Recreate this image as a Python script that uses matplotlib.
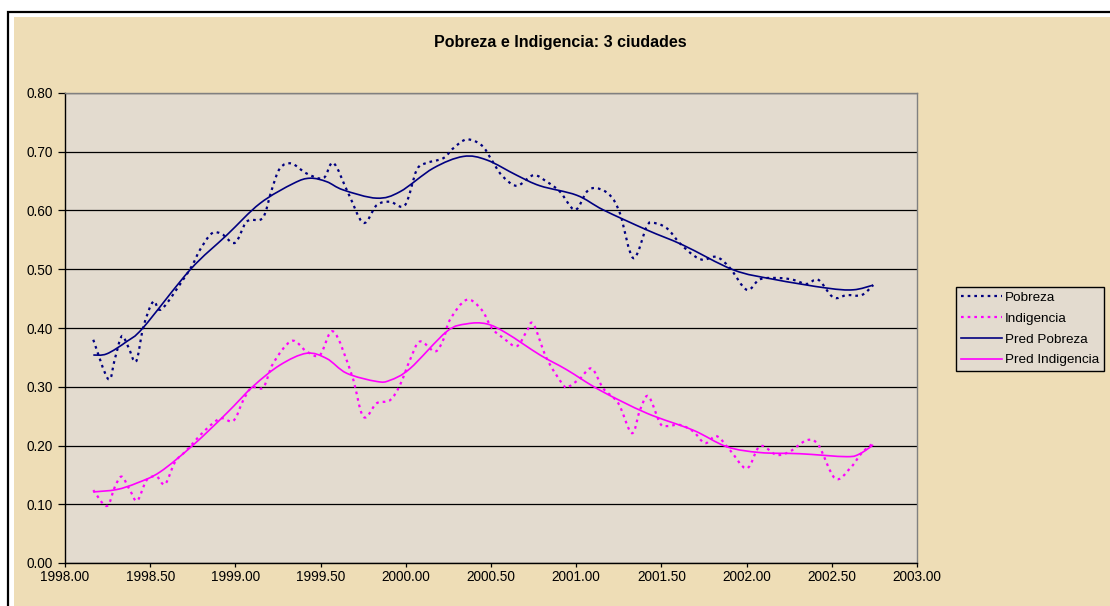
import matplotlib
matplotlib.use("Agg")
import matplotlib.pyplot as plt
from matplotlib.path import Path
from matplotlib.patches import PathPatch, Rectangle
from matplotlib.lines import Line2D
from matplotlib.ticker import MultipleLocator, FormatStrFormatter
import numpy as np

plt.rcParams["font.family"] = ["Liberation Sans", "DejaVu Sans"]

TITLE = "Pobreza e Indigencia: 3 ciudades"

# Pobreza (observed, dotted)
pob_x = [1998.166, 1998.254, 1998.293, 1998.333, 1998.371, 1998.417, 1998.460,
         1998.518, 1998.567, 1998.704, 1998.753, 1998.792, 1998.861, 1998.920,
         1998.998, 1999.066, 1999.144, 1999.174, 1999.213, 1999.262, 1999.330,
         1999.418, 1999.516, 1999.575, 1999.663, 1999.751, 1999.829, 1999.907,
         1999.995, 2000.064, 2000.123, 2000.220, 2000.279, 2000.357, 2000.445,
         2000.504, 2000.563, 2000.651, 2000.748, 2000.827, 2000.905, 2000.993,
         2001.062, 2001.120, 2001.198, 2001.257, 2001.335, 2001.414, 2001.452,
         2001.531, 2001.609, 2001.687, 2001.746, 2001.824, 2001.903, 2002.001,
         2002.079, 2002.196, 2002.274, 2002.353, 2002.421, 2002.509, 2002.587,
         2002.675, 2002.743]
pob_y = [0.380, 0.313, 0.348, 0.386, 0.368, 0.343, 0.402,
         0.445, 0.432, 0.487, 0.510, 0.533, 0.561, 0.560,
         0.545, 0.581, 0.584, 0.595, 0.635, 0.672, 0.680,
         0.663, 0.655, 0.681, 0.629, 0.579, 0.609, 0.615,
         0.609, 0.669, 0.681, 0.689, 0.706, 0.721, 0.711,
         0.686, 0.660, 0.642, 0.660, 0.649, 0.632, 0.601,
         0.632, 0.638, 0.626, 0.595, 0.519, 0.573, 0.579,
         0.570, 0.544, 0.524, 0.516, 0.521, 0.502, 0.465,
         0.483, 0.485, 0.482, 0.475, 0.482, 0.452, 0.456,
         0.456, 0.473]

# Pred Pobreza (solid)
ppob_x = [1998.166, 1998.245, 1998.362, 1998.460, 1998.734, 1998.949, 1999.144,
          1999.340, 1999.438, 1999.536, 1999.633, 1999.829, 1999.966, 2000.161,
          2000.337, 2000.475, 2000.651, 2000.788, 2001.003, 2001.159, 2001.414,
          2001.628, 2001.922, 2002.157, 2002.470, 2002.626, 2002.743]
ppob_y = [0.354, 0.356, 0.377, 0.401, 0.499, 0.558, 0.612,
          0.646, 0.655, 0.649, 0.635, 0.621, 0.632, 0.672,
          0.692, 0.686, 0.660, 0.642, 0.626, 0.601, 0.567,
          0.541, 0.499, 0.483, 0.468, 0.465, 0.473]

# Indigencia (observed, dotted)
ind_x = [1998.166, 1998.245, 1998.293, 1998.333, 1998.381, 1998.424, 1998.479,
         1998.538, 1998.587, 1998.646, 1998.714, 1998.812, 1998.910, 1998.988,
         1999.046, 1999.096, 1999.164, 1999.222, 1999.330, 1999.418, 1999.496,
         1999.575, 1999.683, 1999.751, 1999.829, 1999.907, 1999.966, 2000.025,
         2000.083, 2000.171, 2000.220, 2000.259, 2000.357, 2000.445, 2000.504,
         2000.572, 2000.651, 2000.709, 2000.748, 2000.827, 2000.924, 2000.954,
         2001.022, 2001.091, 2001.159, 2001.247, 2001.326, 2001.374, 2001.423,
         2001.492, 2001.531, 2001.609, 2001.687, 2001.756, 2001.824, 2001.903,
         2002.001, 2002.079, 2002.176, 2002.255, 2002.353, 2002.421, 2002.519,
         2002.607, 2002.675, 2002.743]
ind_y = [0.124, 0.097, 0.130, 0.147, 0.124, 0.106, 0.141,
         0.147, 0.134, 0.172, 0.192, 0.223, 0.246, 0.242,
         0.277, 0.299, 0.299, 0.340, 0.378, 0.360, 0.354,
         0.394, 0.320, 0.249, 0.272, 0.277, 0.303, 0.346,
         0.377, 0.360, 0.380, 0.414, 0.448, 0.431, 0.400,
         0.383, 0.369, 0.394, 0.407, 0.348, 0.303, 0.300,
         0.314, 0.331, 0.297, 0.272, 0.221, 0.260, 0.284,
         0.238, 0.233, 0.235, 0.224, 0.204, 0.216, 0.192,
         0.161, 0.199, 0.184, 0.190, 0.209, 0.201, 0.144,
         0.161, 0.187, 0.204]

# Pred Indigencia (solid)
pind_x = [1998.166, 1998.303, 1998.421, 1998.558, 1998.753, 1998.949, 1999.105,
          1999.262, 1999.418, 1999.536, 1999.653, 1999.829, 1999.907, 2000.025,
          2000.240, 2000.357, 2000.475, 2000.592, 2000.788, 2000.944, 2001.140,
          2001.414, 2001.687, 2001.883, 2002.079, 2002.313, 2002.587, 2002.665,
          2002.743]
pind_y = [0.121, 0.125, 0.136, 0.155, 0.201, 0.255, 0.301,
          0.337, 0.357, 0.348, 0.323, 0.309, 0.311, 0.331,
          0.394, 0.407, 0.407, 0.391, 0.354, 0.329, 0.294,
          0.255, 0.226, 0.198, 0.188, 0.186, 0.181, 0.186,
          0.201]

NAVY = "#000080"
MAGENTA = "#FF00FF"
PLOT_BG = "#E3DBCF"
OUTER_BG = "#EEDDB6"
DOTS = (0, (1.2, 1.8))


def smooth_path(xs, ys):
    # Excel-like smoothed line: Catmull-Rom through the points as cubic Beziers
    pts = np.column_stack([xs, ys])
    n = len(pts)
    verts = [pts[0]]
    codes = [Path.MOVETO]
    for i in range(n - 1):
        p0 = pts[i - 1] if i > 0 else pts[i]
        p1 = pts[i]
        p2 = pts[i + 1]
        p3 = pts[i + 2] if i + 2 < n else pts[i + 1]
        verts += [p1 + (p2 - p0) / 6, p2 - (p3 - p1) / 6, p2]
        codes += [Path.CURVE4] * 3
    return Path(verts, codes)


fig = plt.figure(figsize=(11.1, 6.06), dpi=100, facecolor="white")

# chart area frame and background (behind the axes)
fig.patches.append(Rectangle((8 / 1110, -0.1), 1.2, 0.1 + 1 - 12.5 / 606,
                             transform=fig.transFigure, facecolor="white",
                             edgecolor="black", linewidth=1.6, zorder=-3))
fig.patches.append(Rectangle((14 / 1110, -0.1), 1.2, 0.1 + 1 - 17 / 606,
                             transform=fig.transFigure, facecolor=OUTER_BG,
                             edgecolor="none", zorder=-2))

ax = fig.add_axes([65 / 1110, 43 / 606, 852 / 1110, 470 / 606])
ax.set_facecolor(PLOT_BG)

series = [
    (pob_x, pob_y, NAVY, DOTS, 1.6, "Pobreza"),
    (ind_x, ind_y, MAGENTA, DOTS, 1.6, "Indigencia"),
    (ppob_x, ppob_y, NAVY, "-", 1.2, "Pred Pobreza"),
    (pind_x, pind_y, MAGENTA, "-", 1.2, "Pred Indigencia"),
]

handles = []
for xs, ys, color, ls, lw, label in series:
    patch = PathPatch(smooth_path(xs, ys), fill=False, edgecolor=color,
                      linestyle=ls, linewidth=lw, transform=ax.transData,
                      zorder=3, capstyle="butt")
    ax.add_patch(patch)
    handles.append(Line2D([], [], color=color, linestyle=ls, linewidth=lw,
                          label=label))

ax.set_xlim(1998, 2003)
ax.set_ylim(0, 0.8)
ax.xaxis.set_major_locator(MultipleLocator(0.5))
ax.yaxis.set_major_locator(MultipleLocator(0.1))
ax.xaxis.set_major_formatter(FormatStrFormatter("%.2f"))
ax.yaxis.set_major_formatter(FormatStrFormatter("%.2f"))
ax.grid(axis="y", color="black", linewidth=0.9, zorder=1)
ax.set_axisbelow(True)
ax.tick_params(axis="x", direction="out", length=3, width=0.9, pad=2,
               labelsize=9.8, color="black")
ax.tick_params(axis="y", direction="out", length=5, width=0.9, pad=3.5,
               labelsize=9.8, color="black")

for side in ["left", "bottom"]:
    ax.spines[side].set_color("black")
    ax.spines[side].set_linewidth(1.0)
for side in ["top", "right"]:
    ax.spines[side].set_color("#808080")
    ax.spines[side].set_linewidth(1.0)

fig.text(560 / 1110, 1 - 43 / 606, TITLE, ha="center", va="center",
         fontsize=11.5, fontweight="bold")

leg = fig.legend(handles=handles, loc="upper left",
                 bbox_to_anchor=(956 / 1110, 1 - 287 / 606),
                 bbox_transform=fig.transFigure, borderaxespad=0,
                 fontsize=9.7, handlelength=3.1, handletextpad=0.2,
                 labelspacing=0.62, borderpad=0.35, fancybox=False,
                 framealpha=1, facecolor=PLOT_BG, edgecolor="black")
leg.get_frame().set_linewidth(1.0)

fig.savefig("out.png", dpi=100, facecolor=fig.get_facecolor())
